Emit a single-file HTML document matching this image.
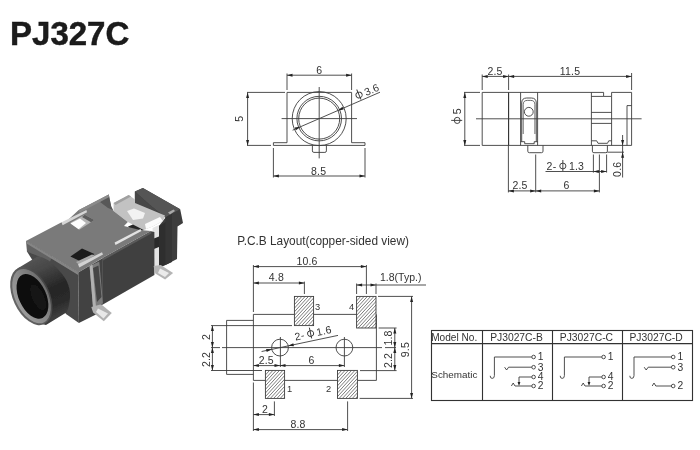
<!DOCTYPE html>
<html><head><meta charset="utf-8"><title>PJ327C</title>
<style>
html,body{margin:0;padding:0;background:#fff;}
body{width:700px;height:450px;overflow:hidden;font-family:"Liberation Sans",sans-serif;}
svg{display:block;position:absolute;left:0;top:0;}
svg text{font-family:"Liberation Sans",sans-serif;}
</style></head><body>
<svg width="700" height="450" viewBox="0 0 700 450">
<defs>
<filter id="bl" x="-5%" y="-5%" width="110%" height="110%"><feGaussianBlur stdDeviation="0.7"/></filter>
<filter id="tb"><feGaussianBlur stdDeviation="0.3"/></filter>
</defs>
<rect width="700" height="450" fill="#fff"/>
<g filter="url(#bl)">
<polygon points="134.9,191.6 142.9,188 180.2,209.3 183,223 177.5,226.5 177,259 162.5,266.5 159,264 159,226 165.5,217.5 134.9,203.5" fill="#3e3e3e" />
<polygon points="134.9,191.6 142.9,188 180.2,209.3 172,213.5 165.5,217.5 150,205" fill="#555555" />
<polygon points="134.9,191.6 150,205 165.5,217.5 134.9,203.5" fill="#464646" />
<polygon points="165.5,217.5 172,213.5 172,262 165.5,265" fill="#343434" />
<polygon points="168,212.5 173.5,209.5 175,211 170,214.5" fill="#aaaaaa" />
<polygon points="152.6,228 159,225 159,266 152.6,268" fill="#e4e4e4" />
<polygon points="152.6,239 159,236.5 159,247 152.6,249.5" fill="#2a2a2a" />
<polygon points="159,226 165.5,222 165.5,265 159,266" fill="#2e2e2e" />
<polygon points="113.6,203 128.7,195 135,199.5 135,203 165,215.5 163,221 152.6,226.5 143.8,230 127.8,222 113.6,211" fill="#c2c2c2" />
<polygon points="127,211 134,208.5 145,213 143,218.5 133,220" fill="#f2f2f2" />
<polygon points="145,224 160,217 163,221 152.6,226.5 146,229" fill="#fbfbfb" />
<polygon points="113.6,203 128.7,195 131,196.6 115.5,205" fill="#a0a0a0" />
<polygon points="128,226.5 133,224.5 143.8,230 139,232.5 131,230" fill="#262626" />
<polygon points="26.4,240.8 61.6,222.3 63,224.5 78.4,210.2 108.7,194.6 111.3,206.7 113.6,211 127.8,222 124,226 140,230 151,231 102.5,258 78.2,272.6" fill="#7a7a7a" />
<polygon points="100,202 108.7,194.6 111.3,206.7 113,210 108,208" fill="#585858" />
<polygon points="78.4,210.2 108.7,194.6 109.3,197 80,212.5" fill="#8a8a8a" />
<polygon points="70.4,222.7 84.7,214.7 94.4,220 79.3,229.8" fill="#b4b4b4" />
<polygon points="70.4,223.5 80,218.5 86,223 78.6,229.3" fill="#fdfdfd" />
<polygon points="82,217 84.7,214.7 94.4,220 91,222.3" fill="#5c5c5c" />
<polygon points="61.6,222.3 86.4,210 87,212.3 62.6,225.2" fill="#d6d6d6" />
<polygon points="70.4,256.4 82,248.6 94.4,254 83,262.5" fill="#1c1c1c" />
<polygon points="76,262 92,254.5 94.5,255.5 79,264.8" fill="#a8a8a8" />
<polygon points="114.6,242.6 140.5,229 141.5,231 115.5,245" fill="#e2e2e2" />
<polygon points="78,264.2 102,252.3 103,254.6 79.3,267.4" fill="#d2d2d2" />
<polygon points="102.9,258 151,231.2 154.4,232 154.4,275 102.9,304.4" fill="#404040" />
<polygon points="102.9,258 151,231.2 151.3,233.4 103,260.4" fill="#5a5a5a" />
<polygon points="78.2,272.6 102.9,258 102.9,304.4 99,306.5 99,313 78.9,322.9" fill="#424242" />
<polygon points="89.6,266 99.3,261.5 102.9,303.3 93.1,308.7" fill="#7c7c7c" />
<polygon points="93,268 98.5,265.5 101.5,297 97,302" fill="#454545" />
<polygon points="89.6,266 92.5,264.8 96,307 93.1,308.7" fill="#b0b0b0" />
<defs><linearGradient id="gb" x1="0" y1="0" x2="0.35" y2="1"><stop offset="0" stop-color="#5c5c5c"/><stop offset="0.3" stop-color="#484848"/><stop offset="0.62" stop-color="#262626"/><stop offset="0.85" stop-color="#2a2a2a"/><stop offset="1" stop-color="#3c3c3c"/></linearGradient></defs>
<polygon points="26.4,240.8 78.2,272.6 78.9,322.9 66,314 27,251.5" fill="#484848" />
<polygon points="26.4,240.8 52,256.5 50,262 38,256 27,251.8" fill="#626262" />
<polygon points="26.4,240.8 78.2,272.6 78.2,275 26.5,243.4" fill="#858585" />
<path d="M17.5,268.5 L37.8,256.2 Q48,258 55.6,266.7 Q63,274 66.7,281 Q70.5,289 70,296.7 Q69.5,306 66.7,312.2 L46,325 L38,323 Z" fill="url(#gb)"/>
<defs><linearGradient id="gr1" x1="0" y1="0.5" x2="1" y2="0.5"><stop offset="0" stop-color="#666"/><stop offset="0.6" stop-color="#555"/><stop offset="1" stop-color="#444"/></linearGradient><linearGradient id="gr2" x1="0" y1="0.6" x2="1" y2="0.4"><stop offset="0" stop-color="#9c9c9c"/><stop offset="0.5" stop-color="#8a8a8a"/><stop offset="1" stop-color="#6c6c6c"/></linearGradient></defs>
<ellipse cx="31.3" cy="296" rx="18.3" ry="31" transform="rotate(-25 31.3 296)" fill="url(#gr1)"/>
<ellipse cx="31.5" cy="296.2" rx="16.5" ry="29" transform="rotate(-25 31.3 296)" fill="url(#gr2)"/>
<ellipse cx="32.2" cy="296.8" rx="13.6" ry="23.8" transform="rotate(-25 31.3 296)" fill="#0c0c0c"/>
<ellipse cx="37" cy="300" rx="6" ry="14" transform="rotate(-25 31.3 296)" fill="#151515"/>
<polygon points="153.6,266 160.7,265 173.1,273.1 165.1,279.5 155.3,273.5" fill="#b5b5b5" />
<polygon points="160,268.5 169,273 165,277 158,273" fill="#ebebeb" />
<polygon points="91.3,307 101.1,304.2 111.8,313.1 103.8,321.3 93.1,312.4" fill="#b2b2b2" />
<polygon points="98,308.5 108,313.5 103.5,318.5 96,312" fill="#e8e8e8" />
</g>
<g filter="url(#tb)">
<text x="10" y="45.4" font-size="34" text-anchor="start" fill="#1a1a1a" font-weight="bold" textLength="119.3" lengthAdjust="spacingAndGlyphs" stroke="#1a1a1a" stroke-width="0.5">PJ327C</text>
<line x1="287" y1="73.5" x2="287" y2="90" stroke="#3c3c3c" stroke-width="0.9" />
<line x1="351.6" y1="73.5" x2="351.6" y2="90" stroke="#3c3c3c" stroke-width="0.9" />
<line x1="287" y1="75.2" x2="351.6" y2="75.2" stroke="#3c3c3c" stroke-width="0.9" />
<path d="M287.00 75.20 L292.50 73.70 L292.50 76.70 Z" fill="#222"/>
<path d="M351.60 75.20 L346.10 76.70 L346.10 73.70 Z" fill="#222"/>
<text x="319.3" y="73.5" font-size="10.5" text-anchor="middle" fill="#333" font-weight="normal" letter-spacing="0.2">6</text>
<path d="M287 142.7 L287 92.4 L351.6 92.4 L351.6 142.7" stroke="#3c3c3c" stroke-width="0.9" fill="none"/>
<path d="M287 142.7 L273.4 142.7 L273.4 145.4 L365 145.4 L365 142.7 L351.6 142.7" stroke="#3c3c3c" stroke-width="0.9" fill="none"/>
<circle cx="319.2" cy="118.6" r="27" stroke="#3c3c3c" stroke-width="0.9" fill="none"/>
<circle cx="319.2" cy="118.6" r="22.3" stroke="#3c3c3c" stroke-width="0.9" fill="none"/>
<circle cx="319.2" cy="118.6" r="20.5" stroke="#3c3c3c" stroke-width="0.9" fill="none"/>
<line x1="281.6" y1="118.6" x2="357" y2="118.6" stroke="#3c3c3c" stroke-width="0.9" />
<line x1="319.2" y1="87" x2="319.2" y2="158.4" stroke="#3c3c3c" stroke-width="0.9" />
<path d="M312.4 145.4 V150.9 Q312.4 152.4 313.9 152.4 H324.9 Q326.4 152.4 326.4 150.9 V145.4" stroke="#3c3c3c" stroke-width="0.9" fill="none"/>
<line x1="292.6" y1="130.2" x2="380" y2="92.2" stroke="#3c3c3c" stroke-width="0.9" />
<path d="M338.00 110.43 L342.45 106.86 L343.64 109.61 Z" fill="#222"/>
<path d="M300.40 126.77 L295.95 130.34 L294.76 127.59 Z" fill="#222"/>
<g transform="translate(357.4 99.9) rotate(-23.5)">
<ellipse cx="3.50" cy="-3.8" rx="3.1" ry="2.9" fill="none" stroke="#333" stroke-width="0.9"/>
<line x1="3.50" y1="-9.8" x2="3.50" y2="1.2" stroke="#333" stroke-width="0.9"/>
<text x="9.60" y="0" font-size="10.5" fill="#333" letter-spacing="0.2">3.6</text>
</g>
<line x1="247" y1="92.4" x2="285" y2="92.4" stroke="#3c3c3c" stroke-width="0.9" />
<line x1="247" y1="145.4" x2="271" y2="145.4" stroke="#3c3c3c" stroke-width="0.9" />
<line x1="247.6" y1="92.4" x2="247.6" y2="145.4" stroke="#3c3c3c" stroke-width="0.9" />
<path d="M247.60 92.40 L249.10 97.90 L246.10 97.90 Z" fill="#222"/>
<path d="M247.60 145.40 L246.10 139.90 L249.10 139.90 Z" fill="#222"/>
<text x="243.5" y="118.8" font-size="10.5" text-anchor="middle" fill="#333" font-weight="normal" transform="rotate(-90 243.5 118.8)" letter-spacing="0.2">5</text>
<line x1="273.4" y1="148" x2="273.4" y2="177.5" stroke="#3c3c3c" stroke-width="0.9" />
<line x1="365" y1="148" x2="365" y2="177.5" stroke="#3c3c3c" stroke-width="0.9" />
<line x1="273.4" y1="176" x2="365" y2="176" stroke="#3c3c3c" stroke-width="0.9" />
<path d="M273.40 176.00 L278.90 174.50 L278.90 177.50 Z" fill="#222"/>
<path d="M365.00 176.00 L359.50 177.50 L359.50 174.50 Z" fill="#222"/>
<text x="318.6" y="174.6" font-size="10.5" text-anchor="middle" fill="#333" font-weight="normal" letter-spacing="0.2">8.5</text>
<line x1="482.2" y1="74.5" x2="482.2" y2="90" stroke="#3c3c3c" stroke-width="0.9" />
<line x1="508.6" y1="74.5" x2="508.6" y2="90" stroke="#3c3c3c" stroke-width="0.9" />
<line x1="631.6" y1="73" x2="631.6" y2="90" stroke="#3c3c3c" stroke-width="0.9" />
<line x1="482.2" y1="76.4" x2="508.6" y2="76.4" stroke="#3c3c3c" stroke-width="0.9" />
<path d="M482.20 76.40 L487.70 74.90 L487.70 77.90 Z" fill="#222"/>
<path d="M508.60 76.40 L503.10 77.90 L503.10 74.90 Z" fill="#222"/>
<line x1="508.6" y1="76.4" x2="631.6" y2="76.4" stroke="#3c3c3c" stroke-width="0.9" />
<path d="M508.60 76.40 L514.10 74.90 L514.10 77.90 Z" fill="#222"/>
<path d="M631.60 76.40 L626.10 77.90 L626.10 74.90 Z" fill="#222"/>
<text x="495" y="74.6" font-size="10.5" text-anchor="middle" fill="#333" font-weight="normal" letter-spacing="0.2">2.5</text>
<text x="570" y="74.6" font-size="10.5" text-anchor="middle" fill="#333" font-weight="normal" letter-spacing="0.2">11.5</text>
<path d="M482.2 92.4 L603.6 92.4 L603.6 96.4 L611.6 96.4 L611.6 92.4 L631.6 92.4 L631.6 145.4 L482.2 145.4 L482.2 92.4" stroke="#3c3c3c" stroke-width="0.9" fill="none"/>
<line x1="508.6" y1="92.4" x2="508.6" y2="145.4" stroke="#2a2a2a" stroke-width="1.1" />
<line x1="520.6" y1="92.4" x2="520.6" y2="145.4" stroke="#3c3c3c" stroke-width="0.9" />
<line x1="537.6" y1="92.4" x2="537.6" y2="145.4" stroke="#3c3c3c" stroke-width="0.9" />
<line x1="591.4" y1="92.4" x2="591.4" y2="145.4" stroke="#3c3c3c" stroke-width="0.9" />
<line x1="611.6" y1="96.4" x2="611.6" y2="145.4" stroke="#3c3c3c" stroke-width="0.9" />
<line x1="591.4" y1="96.4" x2="603.6" y2="96.4" stroke="#3c3c3c" stroke-width="0.9" />
<line x1="591.4" y1="112.4" x2="611.6" y2="112.4" stroke="#3c3c3c" stroke-width="0.9" />
<line x1="591.4" y1="123.4" x2="611.6" y2="123.4" stroke="#3c3c3c" stroke-width="0.9" />
<path d="M631.6 105.6 L627 105.6 L627 145.4" stroke="#3c3c3c" stroke-width="0.9" fill="none"/>
<line x1="476" y1="118.8" x2="641.6" y2="118.8" stroke="#3c3c3c" stroke-width="0.9" />
<path d="M521.7 141.7 V103 Q521.7 98 526.7 98 H531.3 Q536.3 98 536.3 103 V141.7" stroke="#3c3c3c" stroke-width="0.9" fill="none"/>
<path d="M523.2 134 V104.6 Q523.2 100.4 527.4 100.4 H530.7 Q534.9 100.4 534.9 104.6 V134" stroke="#3c3c3c" stroke-width="0.75" fill="none"/>
<circle cx="528.8" cy="111.8" r="4.4" stroke="#3c3c3c" stroke-width="0.9" fill="none"/>
<path d="M520.6 141.7 L524.7 141.7 L524.7 143.7 L534.2 143.7 L534.2 141.7 L537.6 141.7" stroke="#3c3c3c" stroke-width="0.9" fill="none"/>
<path d="M591.4 140.8 L596.7 140.8 L598 143.3 L607.5 143.3 L608.7 140.8 L611.6 140.8" stroke="#3c3c3c" stroke-width="0.9" fill="none"/>
<path d="M527.8 145.4 V151.2 Q527.8 152.7 529.3 152.7 H541.5 Q543 152.7 543 151.2 V145.4" stroke="#3c3c3c" stroke-width="0.9" fill="none"/>
<path d="M592.4 145.4 V151.2 Q592.4 152.7 593.9 152.7 H605.9 Q607.4 152.7 607.4 151.2 V145.4" stroke="#3c3c3c" stroke-width="0.9" fill="none"/>
<line x1="464" y1="92.4" x2="480" y2="92.4" stroke="#3c3c3c" stroke-width="0.9" />
<line x1="464" y1="145.4" x2="480" y2="145.4" stroke="#3c3c3c" stroke-width="0.9" />
<line x1="464.8" y1="92.4" x2="464.8" y2="145.4" stroke="#3c3c3c" stroke-width="0.9" />
<path d="M464.80 92.40 L466.30 97.90 L463.30 97.90 Z" fill="#222"/>
<path d="M464.80 145.40 L463.30 139.90 L466.30 139.90 Z" fill="#222"/>
<g transform="translate(461 123.9) rotate(-90)">
<ellipse cx="3.50" cy="-3.8" rx="3.1" ry="2.9" fill="none" stroke="#333" stroke-width="0.9"/>
<line x1="3.50" y1="-9.8" x2="3.50" y2="1.2" stroke="#333" stroke-width="0.9"/>
<text x="9.60" y="0" font-size="10.5" fill="#333" letter-spacing="0.2">5</text>
</g>
<line x1="508.4" y1="145.4" x2="508.4" y2="192.4" stroke="#3c3c3c" stroke-width="0.9" />
<line x1="535.7" y1="154.5" x2="535.7" y2="192.4" stroke="#3c3c3c" stroke-width="0.9" />
<line x1="599.4" y1="154.5" x2="599.4" y2="192.4" stroke="#3c3c3c" stroke-width="0.9" />
<line x1="508.4" y1="190.9" x2="535.7" y2="190.9" stroke="#3c3c3c" stroke-width="0.9" />
<path d="M508.40 190.90 L513.90 189.40 L513.90 192.40 Z" fill="#222"/>
<path d="M535.70 190.90 L530.20 192.40 L530.20 189.40 Z" fill="#222"/>
<line x1="535.7" y1="190.9" x2="599.4" y2="190.9" stroke="#3c3c3c" stroke-width="0.9" />
<path d="M535.70 190.90 L541.20 189.40 L541.20 192.40 Z" fill="#222"/>
<path d="M599.40 190.90 L593.90 192.40 L593.90 189.40 Z" fill="#222"/>
<text x="520" y="188.8" font-size="10.5" text-anchor="middle" fill="#333" font-weight="normal" letter-spacing="0.2">2.5</text>
<text x="566.6" y="188.8" font-size="10.5" text-anchor="middle" fill="#333" font-weight="normal" letter-spacing="0.2">6</text>
<line x1="593.4" y1="154.5" x2="593.4" y2="172.6" stroke="#3c3c3c" stroke-width="0.9" />
<line x1="606.6" y1="154.5" x2="606.6" y2="172.6" stroke="#3c3c3c" stroke-width="0.9" />
<line x1="545.5" y1="171.5" x2="606.6" y2="171.5" stroke="#3c3c3c" stroke-width="0.9" />
<path d="M593.40 171.50 L598.90 170.00 L598.90 173.00 Z" fill="#222"/>
<path d="M606.60 171.50 L601.10 173.00 L601.10 170.00 Z" fill="#222"/>
<g transform="translate(546.6 169.8) rotate(0)">
<text x="0" y="0" font-size="10.5" fill="#333" letter-spacing="0.2">2-</text>
<ellipse cx="16.23" cy="-3.8" rx="3.1" ry="2.9" fill="none" stroke="#333" stroke-width="0.9"/>
<line x1="16.23" y1="-9.8" x2="16.23" y2="1.2" stroke="#333" stroke-width="0.9"/>
<text x="22.33" y="0" font-size="10.5" fill="#333" letter-spacing="0.2">1.3</text>
</g>
<line x1="622.6" y1="135" x2="622.6" y2="177.5" stroke="#3c3c3c" stroke-width="0.9" />
<line x1="607.4" y1="152.2" x2="624" y2="152.2" stroke="#3c3c3c" stroke-width="0.9" />
<path d="M622.60 145.40 L621.10 139.90 L624.10 139.90 Z" fill="#222"/>
<path d="M622.60 152.20 L624.10 157.70 L621.10 157.70 Z" fill="#222"/>
<text x="621" y="169.3" font-size="10.5" text-anchor="middle" fill="#333" font-weight="normal" transform="rotate(-90 621 169.3)" letter-spacing="0.2">0.6</text>
<text x="237.3" y="245" font-size="11.85" text-anchor="start" fill="#333" font-weight="normal" >P.C.B Layout(copper-sided view)</text>
<line x1="253.4" y1="265" x2="253.4" y2="312" stroke="#3c3c3c" stroke-width="0.9" />
<line x1="366.4" y1="265" x2="366.4" y2="294" stroke="#3c3c3c" stroke-width="0.9" />
<line x1="253.4" y1="266.6" x2="366.4" y2="266.6" stroke="#3c3c3c" stroke-width="0.9" />
<path d="M253.40 266.60 L258.90 265.10 L258.90 268.10 Z" fill="#222"/>
<path d="M366.40 266.60 L360.90 268.10 L360.90 265.10 Z" fill="#222"/>
<text x="307" y="264.8" font-size="10.5" text-anchor="middle" fill="#333" font-weight="normal" letter-spacing="0.2">10.6</text>
<line x1="304.4" y1="281.6" x2="304.4" y2="294" stroke="#3c3c3c" stroke-width="0.9" />
<line x1="253.4" y1="283" x2="304.4" y2="283" stroke="#3c3c3c" stroke-width="0.9" />
<path d="M253.40 283.00 L258.90 281.50 L258.90 284.50 Z" fill="#222"/>
<path d="M304.40 283.00 L298.90 284.50 L298.90 281.50 Z" fill="#222"/>
<text x="276.4" y="281.4" font-size="10.5" text-anchor="middle" fill="#333" font-weight="normal" letter-spacing="0.2">4.8</text>
<line x1="356.6" y1="283.5" x2="356.6" y2="294" stroke="#3c3c3c" stroke-width="0.9" />
<line x1="376" y1="283.5" x2="376" y2="294" stroke="#3c3c3c" stroke-width="0.9" />
<line x1="356.6" y1="285" x2="426" y2="285" stroke="#3c3c3c" stroke-width="0.9" />
<path d="M356.60 285.00 L362.10 283.50 L362.10 286.50 Z" fill="#222"/>
<path d="M376.00 285.00 L370.50 286.50 L370.50 283.50 Z" fill="#222"/>
<text x="380" y="281.2" font-size="10.5" text-anchor="start" fill="#333" font-weight="normal" >1.8(Typ.)</text>
<path d="M253.4 314.4 L294.4 314.4" stroke="#3c3c3c" stroke-width="0.9" fill="none"/>
<path d="M313.6 314.4 L356.6 314.4" stroke="#3c3c3c" stroke-width="0.9" fill="none"/>
<line x1="376.4" y1="314.4" x2="376.4" y2="380.4" stroke="#3c3c3c" stroke-width="0.9" />
<path d="M253.4 314.4 L253.4 380.4" stroke="#3c3c3c" stroke-width="0.9" fill="none"/>
<path d="M253.4 380.4 L265.4 380.4" stroke="#3c3c3c" stroke-width="0.9" fill="none"/>
<path d="M284.6 380.4 L337.5 380.4" stroke="#3c3c3c" stroke-width="0.9" fill="none"/>
<path d="M357.4 380.4 L376.4 380.4" stroke="#3c3c3c" stroke-width="0.9" fill="none"/>
<path d="M253.4 320.4 L226.6 320.4 L226.6 374.4 L253.4 374.4" stroke="#3c3c3c" stroke-width="0.9" fill="none"/>
<clipPath id="cp1"><rect x="294.4" y="296.4" width="19.200000000000045" height="29.200000000000045"/></clipPath>
<rect x="294.4" y="296.4" width="19.200000000000045" height="29.200000000000045" fill="#fff"/>
<path d="M265.24 325.6 L292.00 296.4 M268.54 325.6 L295.30 296.4 M271.84 325.6 L298.60 296.4 M275.14 325.6 L301.90 296.4 M278.44 325.6 L305.20 296.4 M281.74 325.6 L308.50 296.4 M285.04 325.6 L311.80 296.4 M288.34 325.6 L315.10 296.4 M291.64 325.6 L318.40 296.4 M294.94 325.6 L321.70 296.4 M298.24 325.6 L325.00 296.4 M301.54 325.6 L328.30 296.4 M304.84 325.6 L331.60 296.4 M308.14 325.6 L334.90 296.4 M311.44 325.6 L338.20 296.4 M314.74 325.6 L341.50 296.4 " stroke="#444444" stroke-width="0.7" fill="none" clip-path="url(#cp1)"/>
<rect x="294.4" y="296.4" width="19.200000000000045" height="29.200000000000045" fill="none" stroke="#3c3c3c" stroke-width="0.9"/>
<clipPath id="cp2"><rect x="356.6" y="296.4" width="19.399999999999977" height="31.600000000000023"/></clipPath>
<rect x="356.6" y="296.4" width="19.399999999999977" height="31.600000000000023" fill="#fff"/>
<path d="M325.24 328 L354.20 296.4 M328.54 328 L357.50 296.4 M331.84 328 L360.80 296.4 M335.14 328 L364.10 296.4 M338.44 328 L367.40 296.4 M341.74 328 L370.70 296.4 M345.04 328 L374.00 296.4 M348.34 328 L377.30 296.4 M351.64 328 L380.60 296.4 M354.94 328 L383.90 296.4 M358.24 328 L387.20 296.4 M361.54 328 L390.50 296.4 M364.84 328 L393.80 296.4 M368.14 328 L397.10 296.4 M371.44 328 L400.40 296.4 M374.74 328 L403.70 296.4 M378.04 328 L407.00 296.4 " stroke="#444444" stroke-width="0.7" fill="none" clip-path="url(#cp2)"/>
<rect x="356.6" y="296.4" width="19.399999999999977" height="31.600000000000023" fill="none" stroke="#3c3c3c" stroke-width="0.9"/>
<clipPath id="cp3"><rect x="265.4" y="370.4" width="19.200000000000045" height="28.0"/></clipPath>
<rect x="265.4" y="370.4" width="19.200000000000045" height="28.0" fill="#fff"/>
<path d="M237.34 398.4 L263.00 370.4 M240.64 398.4 L266.30 370.4 M243.94 398.4 L269.60 370.4 M247.24 398.4 L272.90 370.4 M250.54 398.4 L276.20 370.4 M253.84 398.4 L279.50 370.4 M257.14 398.4 L282.80 370.4 M260.44 398.4 L286.10 370.4 M263.74 398.4 L289.40 370.4 M267.04 398.4 L292.70 370.4 M270.34 398.4 L296.00 370.4 M273.64 398.4 L299.30 370.4 M276.94 398.4 L302.60 370.4 M280.24 398.4 L305.90 370.4 M283.54 398.4 L309.20 370.4 M286.84 398.4 L312.50 370.4 " stroke="#444444" stroke-width="0.7" fill="none" clip-path="url(#cp3)"/>
<rect x="265.4" y="370.4" width="19.200000000000045" height="28.0" fill="none" stroke="#3c3c3c" stroke-width="0.9"/>
<clipPath id="cp4"><rect x="337.5" y="370.4" width="19.899999999999977" height="28.0"/></clipPath>
<rect x="337.5" y="370.4" width="19.899999999999977" height="28.0" fill="#fff"/>
<path d="M309.44 398.4 L335.10 370.4 M312.74 398.4 L338.40 370.4 M316.04 398.4 L341.70 370.4 M319.34 398.4 L345.00 370.4 M322.64 398.4 L348.30 370.4 M325.94 398.4 L351.60 370.4 M329.24 398.4 L354.90 370.4 M332.54 398.4 L358.20 370.4 M335.84 398.4 L361.50 370.4 M339.14 398.4 L364.80 370.4 M342.44 398.4 L368.10 370.4 M345.74 398.4 L371.40 370.4 M349.04 398.4 L374.70 370.4 M352.34 398.4 L378.00 370.4 M355.64 398.4 L381.30 370.4 M358.94 398.4 L384.60 370.4 " stroke="#444444" stroke-width="0.7" fill="none" clip-path="url(#cp4)"/>
<rect x="337.5" y="370.4" width="19.899999999999977" height="28.0" fill="none" stroke="#3c3c3c" stroke-width="0.9"/>
<text x="315" y="309.6" font-size="9.3" text-anchor="start" fill="#333" font-weight="normal" >3</text>
<text x="349" y="309.6" font-size="9.3" text-anchor="start" fill="#333" font-weight="normal" >4</text>
<text x="287" y="391.8" font-size="9.3" text-anchor="start" fill="#333" font-weight="normal" >1</text>
<text x="326" y="391.8" font-size="9.3" text-anchor="start" fill="#333" font-weight="normal" >2</text>
<line x1="211" y1="347.6" x2="220" y2="347.6" stroke="#3c3c3c" stroke-width="0.9" />
<line x1="222" y1="347.6" x2="382" y2="347.6" stroke="#3c3c3c" stroke-width="0.9" />
<line x1="211" y1="325.6" x2="292" y2="325.6" stroke="#3c3c3c" stroke-width="0.9" />
<line x1="211" y1="370.5" x2="262" y2="370.5" stroke="#3c3c3c" stroke-width="0.9" />
<line x1="212.4" y1="325.6" x2="212.4" y2="370.5" stroke="#3c3c3c" stroke-width="0.9" />
<path d="M212.40 325.60 L213.90 331.10 L210.90 331.10 Z" fill="#222"/>
<path d="M212.40 347.60 L210.90 342.10 L213.90 342.10 Z" fill="#222"/>
<path d="M212.40 347.60 L213.90 353.10 L210.90 353.10 Z" fill="#222"/>
<path d="M212.40 370.50 L210.90 365.00 L213.90 365.00 Z" fill="#222"/>
<text x="210" y="337" font-size="10.5" text-anchor="middle" fill="#333" font-weight="normal" transform="rotate(-90 210 337)" letter-spacing="0.2">2</text>
<text x="210" y="359.5" font-size="10.5" text-anchor="middle" fill="#333" font-weight="normal" transform="rotate(-90 210 359.5)" letter-spacing="0.2">2.2</text>
<circle cx="280" cy="347.6" r="8.4" stroke="#3c3c3c" stroke-width="0.9" fill="none"/>
<circle cx="344.4" cy="347.6" r="8.4" stroke="#3c3c3c" stroke-width="0.9" fill="none"/>
<line x1="280.4" y1="337" x2="280.4" y2="367" stroke="#3c3c3c" stroke-width="0.9" />
<line x1="344.4" y1="337" x2="344.4" y2="367" stroke="#3c3c3c" stroke-width="0.9" />
<line x1="253.4" y1="365.6" x2="344.4" y2="365.6" stroke="#3c3c3c" stroke-width="0.9" />
<path d="M253.40 365.60 L258.90 364.10 L258.90 367.10 Z" fill="#222"/>
<path d="M280.00 365.60 L274.50 367.10 L274.50 364.10 Z" fill="#222"/>
<path d="M280.00 365.60 L285.50 364.10 L285.50 367.10 Z" fill="#222"/>
<path d="M344.40 365.60 L338.90 367.10 L338.90 364.10 Z" fill="#222"/>
<text x="266.3" y="364.2" font-size="10.5" text-anchor="middle" fill="#333" font-weight="normal" letter-spacing="0.2">2.5</text>
<text x="311.6" y="364.2" font-size="10.5" text-anchor="middle" fill="#333" font-weight="normal" letter-spacing="0.2">6</text>
<line x1="261.6" y1="351.5" x2="338" y2="335.4" stroke="#3c3c3c" stroke-width="0.9" />
<path d="M271.78 349.33 L266.71 351.93 L266.09 349.00 Z" fill="#222"/>
<path d="M288.22 345.87 L293.29 343.27 L293.91 346.20 Z" fill="#222"/>
<g transform="translate(295.5 340.6) rotate(-11.9)">
<text x="0" y="0" font-size="10.5" fill="#333" letter-spacing="0.2">2-</text>
<ellipse cx="16.23" cy="-3.8" rx="3.1" ry="2.9" fill="none" stroke="#333" stroke-width="0.9"/>
<line x1="16.23" y1="-9.8" x2="16.23" y2="1.2" stroke="#333" stroke-width="0.9"/>
<text x="22.33" y="0" font-size="10.5" fill="#333" letter-spacing="0.2">1.6</text>
</g>
<line x1="378.6" y1="328" x2="396.6" y2="328" stroke="#3c3c3c" stroke-width="0.9" />
<line x1="360" y1="370.6" x2="396.6" y2="370.6" stroke="#3c3c3c" stroke-width="0.9" />
<line x1="385" y1="347.6" x2="396" y2="347.6" stroke="#3c3c3c" stroke-width="0.9" />
<line x1="394.8" y1="328" x2="394.8" y2="370.6" stroke="#3c3c3c" stroke-width="0.9" />
<path d="M394.80 328.00 L396.30 333.50 L393.30 333.50 Z" fill="#222"/>
<path d="M394.80 347.60 L393.30 342.10 L396.30 342.10 Z" fill="#222"/>
<path d="M394.80 347.60 L396.30 353.10 L393.30 353.10 Z" fill="#222"/>
<path d="M394.80 370.60 L393.30 365.10 L396.30 365.10 Z" fill="#222"/>
<text x="392.4" y="338" font-size="10.5" text-anchor="middle" fill="#333" font-weight="normal" transform="rotate(-90 392.4 338)" letter-spacing="0.2">1.8</text>
<text x="392.4" y="360.5" font-size="10.5" text-anchor="middle" fill="#333" font-weight="normal" transform="rotate(-90 392.4 360.5)" letter-spacing="0.2">2.2</text>
<line x1="378" y1="296.4" x2="413" y2="296.4" stroke="#3c3c3c" stroke-width="0.9" />
<line x1="359.6" y1="398.4" x2="413" y2="398.4" stroke="#3c3c3c" stroke-width="0.9" />
<line x1="411.6" y1="296.4" x2="411.6" y2="398.4" stroke="#3c3c3c" stroke-width="0.9" />
<path d="M411.60 296.40 L413.10 301.90 L410.10 301.90 Z" fill="#222"/>
<path d="M411.60 398.40 L410.10 392.90 L413.10 392.90 Z" fill="#222"/>
<text x="409.3" y="349.6" font-size="10.5" text-anchor="middle" fill="#333" font-weight="normal" transform="rotate(-90 409.3 349.6)" letter-spacing="0.2">9.5</text>
<line x1="253.4" y1="382.5" x2="253.4" y2="431" stroke="#3c3c3c" stroke-width="0.9" />
<line x1="274.4" y1="401.4" x2="274.4" y2="416" stroke="#3c3c3c" stroke-width="0.9" />
<line x1="253.4" y1="414.6" x2="274.4" y2="414.6" stroke="#3c3c3c" stroke-width="0.9" />
<path d="M253.40 414.60 L258.90 413.10 L258.90 416.10 Z" fill="#222"/>
<path d="M274.40 414.60 L268.90 416.10 L268.90 413.10 Z" fill="#222"/>
<text x="265" y="412.8" font-size="10.5" text-anchor="middle" fill="#333" font-weight="normal" letter-spacing="0.2">2</text>
<line x1="347.6" y1="401.4" x2="347.6" y2="431" stroke="#3c3c3c" stroke-width="0.9" />
<line x1="253.4" y1="429.6" x2="347.6" y2="429.6" stroke="#3c3c3c" stroke-width="0.9" />
<path d="M253.40 429.60 L258.90 428.10 L258.90 431.10 Z" fill="#222"/>
<path d="M347.60 429.60 L342.10 431.10 L342.10 428.10 Z" fill="#222"/>
<text x="298" y="427.6" font-size="10.5" text-anchor="middle" fill="#333" font-weight="normal" letter-spacing="0.2">8.8</text>
<rect x="431.5" y="330.5" width="261.0" height="70.0" fill="none" stroke="#333" stroke-width="1.1"/>
<line x1="431.5" y1="343.6" x2="692.5" y2="343.6" stroke="#333" stroke-width="1.1" />
<line x1="482.5" y1="330.5" x2="482.5" y2="400.5" stroke="#333" stroke-width="1.1" />
<line x1="552.5" y1="330.5" x2="552.5" y2="400.5" stroke="#333" stroke-width="1.1" />
<line x1="622.5" y1="330.5" x2="622.5" y2="400.5" stroke="#333" stroke-width="1.1" />
<text x="431.2" y="341" font-size="10.1" text-anchor="start" fill="#333" font-weight="normal" >Model No.</text>
<text x="431.3" y="377.6" font-size="9.9" text-anchor="start" fill="#333" font-weight="normal" >Schematic</text>
<text x="516.5" y="341" font-size="10.3" text-anchor="middle" fill="#333" font-weight="normal" >PJ3027C-B</text>
<text x="586.4" y="341" font-size="10.3" text-anchor="middle" fill="#333" font-weight="normal" >PJ3027C-C</text>
<text x="656.1" y="341" font-size="10.3" text-anchor="middle" fill="#333" font-weight="normal" >PJ3027C-D</text>
<circle cx="533.6" cy="357" r="1.8" stroke="#3c3c3c" stroke-width="0.9" fill="none"/>
<text x="537.8000000000001" y="360.4" font-size="10.3" text-anchor="start" fill="#333" font-weight="normal" >1</text>
<path d="M531.8000000000001 357 H494.40000000000003 V375.6 Q494.40000000000003 378.4 492.20000000000005 378.4 Q490.20000000000005 378.4 490.20000000000005 375.8" stroke="#3c3c3c" stroke-width="0.9" fill="none"/>
<circle cx="533.6" cy="367.2" r="1.8" stroke="#3c3c3c" stroke-width="0.9" fill="none"/>
<text x="537.8000000000001" y="370.59999999999997" font-size="10.3" text-anchor="start" fill="#333" font-weight="normal" >3</text>
<path d="M531.8000000000001 367.2 H508.6 L506.6 370 L504.6 367.2" stroke="#3c3c3c" stroke-width="0.9" fill="none"/>
<circle cx="533.6" cy="377" r="1.8" stroke="#3c3c3c" stroke-width="0.9" fill="none"/>
<text x="537.8000000000001" y="380.4" font-size="10.3" text-anchor="start" fill="#333" font-weight="normal" >4</text>
<path d="M531.8000000000001 377 H519.0 V384" stroke="#3c3c3c" stroke-width="0.9" fill="none"/>
<path d="M519.00 386.00 L517.60 382.00 L520.40 382.00 Z" fill="#222"/>
<circle cx="533.6" cy="386" r="1.8" stroke="#3c3c3c" stroke-width="0.9" fill="none"/>
<text x="537.8000000000001" y="389.4" font-size="10.3" text-anchor="start" fill="#333" font-weight="normal" >2</text>
<path d="M531.8000000000001 386 H515.0 L513.2 383 L511.4 386" stroke="#3c3c3c" stroke-width="0.9" fill="none"/>
<circle cx="603.6" cy="357" r="1.8" stroke="#3c3c3c" stroke-width="0.9" fill="none"/>
<text x="607.8000000000001" y="360.4" font-size="10.3" text-anchor="start" fill="#333" font-weight="normal" >1</text>
<path d="M601.8000000000001 357 H564.4 V375.6 Q564.4 378.4 562.1999999999999 378.4 Q560.1999999999999 378.4 560.1999999999999 375.8" stroke="#3c3c3c" stroke-width="0.9" fill="none"/>
<circle cx="603.6" cy="377" r="1.8" stroke="#3c3c3c" stroke-width="0.9" fill="none"/>
<text x="607.8000000000001" y="380.4" font-size="10.3" text-anchor="start" fill="#333" font-weight="normal" >4</text>
<path d="M601.8000000000001 377 H589.0 V384" stroke="#3c3c3c" stroke-width="0.9" fill="none"/>
<path d="M589.00 386.00 L587.60 382.00 L590.40 382.00 Z" fill="#222"/>
<circle cx="603.6" cy="386" r="1.8" stroke="#3c3c3c" stroke-width="0.9" fill="none"/>
<text x="607.8000000000001" y="389.4" font-size="10.3" text-anchor="start" fill="#333" font-weight="normal" >2</text>
<path d="M601.8000000000001 386 H585.0 L583.2 383 L581.4 386" stroke="#3c3c3c" stroke-width="0.9" fill="none"/>
<circle cx="673.2" cy="357" r="1.8" stroke="#3c3c3c" stroke-width="0.9" fill="none"/>
<text x="677.4000000000001" y="360.4" font-size="10.3" text-anchor="start" fill="#333" font-weight="normal" >1</text>
<path d="M671.4000000000001 357 H634.0 V375.6 Q634.0 378.4 631.8 378.4 Q629.8 378.4 629.8 375.8" stroke="#3c3c3c" stroke-width="0.9" fill="none"/>
<circle cx="673.2" cy="367.2" r="1.8" stroke="#3c3c3c" stroke-width="0.9" fill="none"/>
<text x="677.4000000000001" y="370.59999999999997" font-size="10.3" text-anchor="start" fill="#333" font-weight="normal" >3</text>
<path d="M671.4000000000001 367.2 H648.2 L646.2 370 L644.2 367.2" stroke="#3c3c3c" stroke-width="0.9" fill="none"/>
<circle cx="673.2" cy="386" r="1.8" stroke="#3c3c3c" stroke-width="0.9" fill="none"/>
<text x="677.4000000000001" y="389.4" font-size="10.3" text-anchor="start" fill="#333" font-weight="normal" >2</text>
<path d="M671.4000000000001 386 H655.8000000000001 L654.0000000000001 383 L652.2 386" stroke="#3c3c3c" stroke-width="0.9" fill="none"/>
</g>
</svg>
</body></html>
